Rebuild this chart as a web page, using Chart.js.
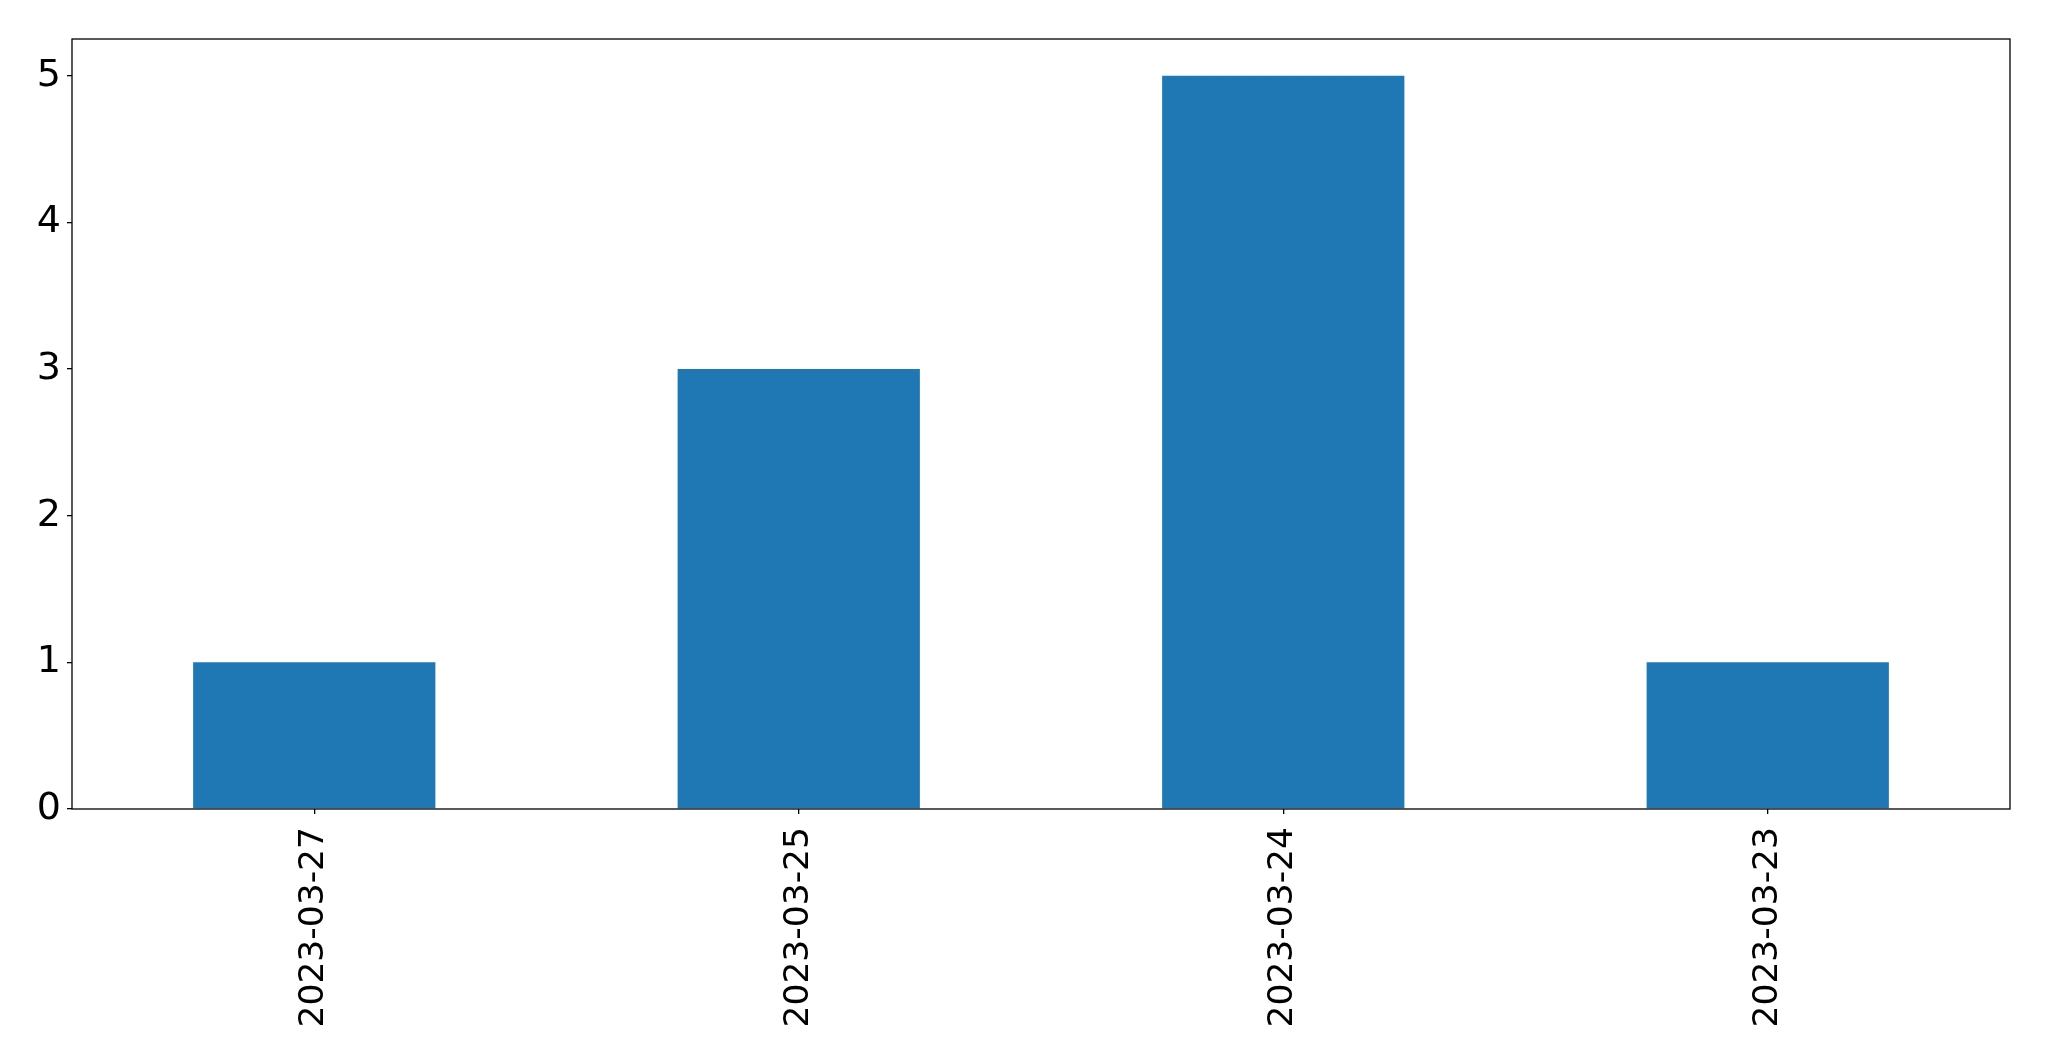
<!DOCTYPE html>
<html>
<head>
<meta charset="utf-8">
<script src="https://cdn.jsdelivr.net/npm/chart.js@4.4.0/dist/chart.umd.min.js"></script>
<style>
  html, body { margin: 0; padding: 0; background: #fff; }
  #wrap { width: 2049px; height: 1061px; }
</style>
</head>
<body>
<div id="wrap"><canvas id="myChart" width="2049" height="1061"></canvas></div>
<script>
// data
var dates = ['2023-03-27', '2023-03-25', '2023-03-24', '2023-03-23'];
var counts = [1, 3, 5, 1];
var yTicks = [0, 1, 2, 3, 4, 5];

// box round the plot, like matplotlib spines
var frame = {
    id: 'frame',
    afterDraw: function(chart) {
        var a = chart.chartArea;
        var c = chart.ctx;
        c.save();
        c.strokeStyle = '#000';
        c.lineWidth = 1.3;
        c.strokeRect(a.left, a.top, a.right - a.left, a.bottom - a.top);
        c.restore();
    }
};

var ctx = document.getElementById('myChart').getContext('2d');
var myChart = new Chart(ctx, {
    type: 'bar',
    data: {
        labels: dates,
        datasets: [{
            data: counts,
            backgroundColor: '#1f77b4',
            borderWidth: 0,
            barPercentage: 0.5,
            categoryPercentage: 1.0
        }]
    },
    options: {
        responsive: false,
        animation: false,
        layout: { padding: { left: 0, top: 39, right: 39, bottom: 0 } },
        plugins: { legend: { display: false }, tooltip: { enabled: false } },
        scales: {
            x: {
                grid: { display: true, drawOnChartArea: false, drawTicks: true, tickLength: 5, color: '#000', offset: false, lineWidth: 1.3 },
                border: { display: false },
                ticks: {
                    color: '#000',
                    font: { family: 'DejaVu Sans', size: 34.5 },
                    minRotation: 90, maxRotation: 90,
                    padding: 13
                },
                afterFit: function(s) { s.height = 252; }
            },
            y: {
                min: 0,
                max: 5.25,
                grid: { display: true, drawOnChartArea: false, drawTicks: true, tickLength: 5, color: '#000', lineWidth: 1.3 },
                border: { display: false },
                ticks: {
                    color: '#000',
                    font: { family: 'DejaVu Sans', size: 38 },
                    stepSize: 1,
                    includeBounds: false,
                    padding: 6,
                    callback: function(v) { return yTicks.indexOf(v) >= 0 ? String(v) : ''; }
                },
                afterFit: function(s) { s.width = 72; }
            }
        }
    },
    plugins: [frame]
});
</script>
</body>
</html>
